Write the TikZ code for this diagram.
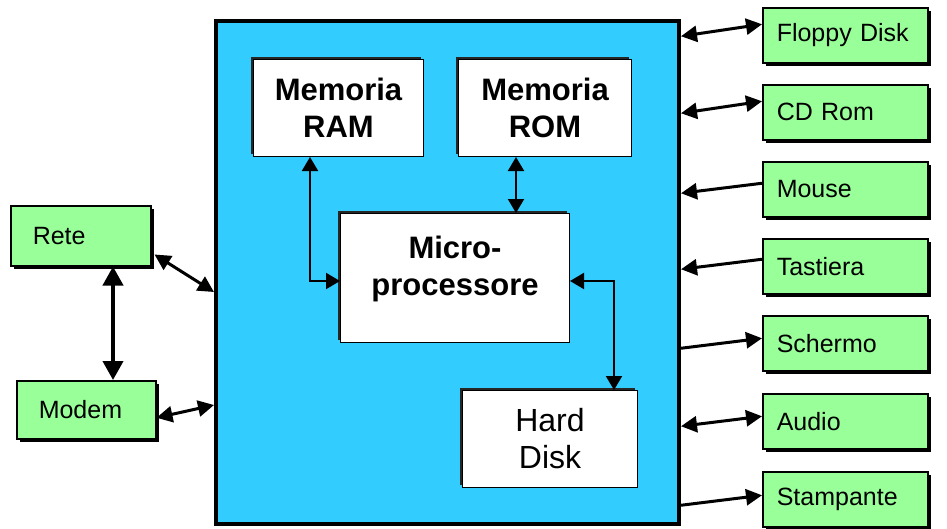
\documentclass[tikz,border=0pt]{standalone}
\usepackage{fontspec}
\setmainfont{Liberation Sans}
\usetikzlibrary{arrows.meta}
\definecolor{cpublue}{HTML}{33CCFF}
\definecolor{devgreen}{HTML}{99FF99}
\tikzset{
  bigtip/.tip={Triangle[length=16pt,width=16pt]},
  hugetip/.tip={Triangle[length=19pt,width=20pt]},
  smalltip/.tip={Triangle[length=14pt,width=16pt]}
}
\begin{document}
\begin{tikzpicture}[x=1pt,y=-1pt,
  devbox/.style={draw=black, line width=1.5pt, fill=devgreen, minimum height=55pt,
    inner ysep=0pt, anchor=north west, align=left,
    font=\fontsize{25}{28}\selectfont,
    preaction={fill=black, transform canvas={xshift=3pt, yshift=-3pt}}},
  rdev/.style={devbox, inner xsep=14pt, text width=137pt},
  unitbox/.style={draw=black, line width=1pt, fill=white, align=center, inner sep=0pt,
    anchor=north west,
    preaction={fill=black!85, transform canvas={xshift=-3pt, yshift=3pt}}},
  boldtxt/.style={font=\bfseries\fontsize{31}{37}\selectfont},
  inlink/.style={line width=2pt, {smalltip}-{smalltip}},
  outlink/.style={line width=3pt}
]
\useasboundingbox (0,0) rectangle (947,528);
\fill[white] (0,0) rectangle (947,528);

% main unit
\node[draw=black, line width=4pt, fill=cpublue, minimum width=463pt, minimum height=503pt,
  inner sep=0pt, anchor=north west] (main) at (214,19) {};

% inner units
\node[unitbox, boldtxt, minimum width=170pt, minimum height=97pt] (ram) at (253,59) {Memoria\\RAM};
\node[unitbox, boldtxt, minimum width=173pt, minimum height=97pt] (rom) at (458,59) {Memoria\\ROM};
\node[unitbox, minimum width=229pt, minimum height=129pt,
  label={[boldtxt, align=center, yshift=9pt]center:Micro-\\processore}] (cpu) at (340,213) {};
\node[unitbox, font=\fontsize{32}{37}\selectfont, minimum width=175pt, minimum height=97pt] (hd) at (462,390) {Hard\\Disk};

% inner connectors
\draw[inlink] ([xshift=57pt]ram.south west) |- ([yshift=-3pt]cpu.west);
\draw[inlink] ([xshift=58pt]rom.south west) -- ([xshift=58pt]rom.south west |- cpu.north);
\draw[inlink] ([yshift=-3pt]cpu.east) -| ([xshift=-24pt]hd.north east);

% right devices
\node[rdev] (floppy) at (762,7) {Floppy Disk};
\node[rdev] (cdrom) at (762,84) {CD Rom};
\node[rdev] (mouse) at (762,161) {Mouse};
\node[rdev] (tast) at (762,238) {Tastiera};
\node[rdev] (scherm) at (762,315) {Schermo};
\node[rdev] (audio) at (762,393) {Audio};
\node[rdev] (stamp) at (762,471) {Stampante};

% left devices
\node[devbox, inner xsep=22pt, text width=96pt, minimum height=60pt] (rete) at (10,205) {Rete};
\node[devbox, inner xsep=22pt, text width=95pt, minimum height=58pt] (modem) at (16,380) {Modem};

% right connectors
\draw[outlink, {bigtip}-{bigtip}] ([yshift=-1pt]main.east |- floppy.west) -- ([yshift=11pt]floppy.west);
\draw[outlink, {bigtip}-{bigtip}] ([yshift=-1pt]main.east |- cdrom.west) -- ([yshift=11pt]cdrom.west);
\draw[outlink, {bigtip}-] ([yshift=-4pt]main.east |- mouse.west) -- ([yshift=6pt]mouse.west);
\draw[outlink, {bigtip}-] ([yshift=-3pt]main.east |- tast.west) -- ([yshift=7pt]tast.west);
\draw[outlink, -{bigtip}] ([yshift=-5pt]main.east |- scherm.west) -- ([yshift=5pt]scherm.west);
\draw[outlink, {bigtip}-{bigtip}] ([yshift=-5pt]main.east |- audio.west) -- ([yshift=5pt]audio.west);
\draw[outlink, -{bigtip}] ([yshift=-6pt]main.east |- stamp.west) -- ([yshift=4pt]stamp.west);

% left connectors
\draw[line width=4pt, {hugetip}-{hugetip}] ([xshift=103pt]rete.south west) -- ([xshift=103pt]rete.south west |- modem.north);
\draw[outlink, {bigtip}-{bigtip}] ([xshift=3pt,yshift=12pt]rete.south east) -- ([yshift=-19.5pt]main.west);
\draw[outlink, {bigtip}-{bigtip}] ([yshift=-8pt]modem.east) -- ([yshift=-132.5pt]main.west);
\end{tikzpicture}
\end{document}
